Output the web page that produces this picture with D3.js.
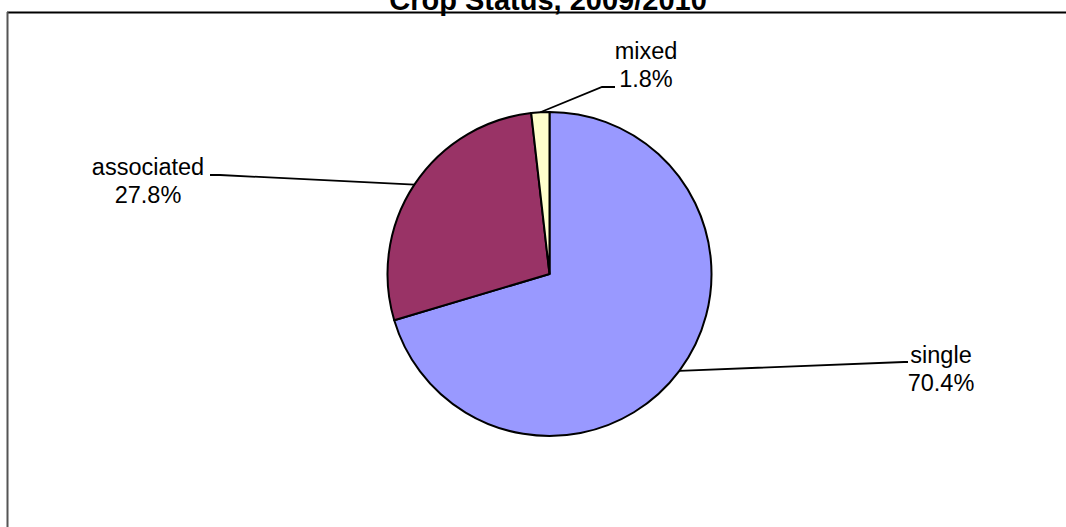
<!DOCTYPE html>
<html>
<head>
<meta charset="utf-8">
<script src="https://cdn.jsdelivr.net/npm/d3@7"></script>
<style>
  html, body { margin: 0; padding: 0; background: #fff; }
  svg { display: block; }
  text { font-family: "Liberation Sans", Arial, sans-serif; }
</style>
</head>
<body>
<svg id="chart" width="1066" height="527"></svg>
<script>
const categories = ["single", "associated", "mixed"];
const values = [70.4, 27.8, 1.8];
const percentLabels = ["70.4%", "27.8%", "1.8%"];
const colors = ["#9999FF", "#993366", "#FFFFCC"];
const title = "Crop Status, 2009/2010";

const W = 1066, H = 527;
const cx = 549.5, cy = 274, R = 162;
const fontSize = 23.5, lineGap = 28;

// label layout: [anchor x, first baseline y, leader end x, leader end y, horizontal stub dx]
const labelLayout = [
  { x: 941, y: 363, ex: 908, ey: 362, stub: -4 },
  { x: 148, y: 175, ex: 210, ey: 175, stub: 10 },
  { x: 646, y: 59,  ex: 615, ey: 87,  stub: -13 }
];

const svg = d3.select("#chart");

// frame
svg.append("line").attr("x1", 7).attr("x2", W).attr("y1", 12.5).attr("y2", 12.5)
  .attr("stroke", "#000").attr("stroke-width", 2);
svg.append("line").attr("x1", 7.5).attr("x2", 7.5).attr("y1", 12).attr("y2", H)
  .attr("stroke", "#555").attr("stroke-width", 2);

// title
svg.append("text").attr("x", 548).attr("y", 10).attr("text-anchor", "middle")
  .attr("font-size", 29).attr("font-weight", "bold").attr("fill", "#000").text(title);

const data = categories.map((c, i) => ({ name: c, value: values[i], pct: percentLabels[i], color: colors[i], lay: labelLayout[i] }));

const pie = d3.pie().value(d => d.value).sort(null).startAngle(0).endAngle(2 * Math.PI);
const arcs = pie(data);
const arc = d3.arc().innerRadius(0).outerRadius(R);
const outerArc = d3.arc().innerRadius(R).outerRadius(R);

const g = svg.append("g").attr("transform", `translate(${cx},${cy})`);
g.selectAll("path.slice").data(arcs).join("path")
  .attr("class", "slice")
  .attr("d", arc)
  .attr("fill", d => d.data.color)
  .attr("stroke", "#000").attr("stroke-width", 2).attr("stroke-linejoin", "round");

// leader lines and labels
arcs.forEach(a => {
  const [px, py] = outerArc.centroid(a);
  const L = a.data.lay;
  const pts = [[cx + px, cy + py], [L.ex + L.stub, L.ey], [L.ex, L.ey]];
  svg.append("path").attr("d", d3.line()(pts)).attr("fill", "none")
    .attr("stroke", "#000").attr("stroke-width", 1.8);
  const t = svg.append("text").attr("text-anchor", "middle").attr("font-size", fontSize).attr("fill", "#000");
  t.append("tspan").attr("x", L.x).attr("y", L.y).text(a.data.name);
  t.append("tspan").attr("x", L.x).attr("y", L.y + lineGap).text(a.data.pct);
});
</script>
</body>
</html>
